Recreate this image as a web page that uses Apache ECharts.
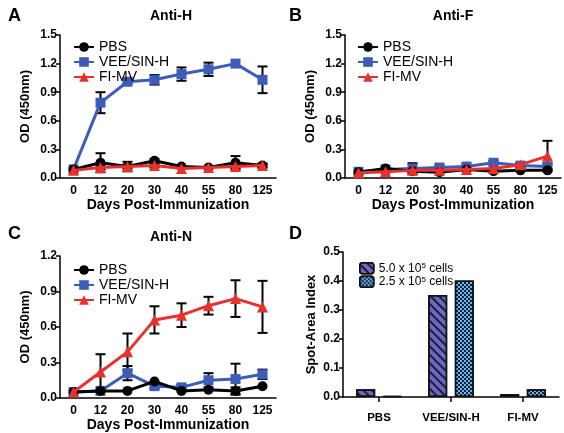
<!DOCTYPE html>
<html><head><meta charset="utf-8">
<script src="https://cdn.jsdelivr.net/npm/echarts@6/dist/echarts.min.js"></script>
<style>html,body{margin:0;padding:0;background:#fff}#c{width:564px;height:433px}</style>
</head><body><div id="c"></div>
<script>
// ---------- data ----------
const days = ['0','12','20','30','40','55','80','125'];
const seriesNames = ['PBS','VEE/SIN-H','FI-MV'];

// Panel A (Anti-H)
const aPBS    = [0.09,0.16,0.12,0.18,0.12,0.11,0.16,0.13];
const aPBSsd  = [0.00,0.10,0.05,0.02,0.01,0.01,0.07,0.02];
const aVEE    = [0.09,0.79,1.01,1.03,1.09,1.14,1.20,1.03];
const aVEEsd  = [0.00,0.11,0.02,0.05,0.07,0.07,0.01,0.14];
const aFI     = [0.08,0.11,0.12,0.13,0.10,0.11,0.12,0.13];
const aFIsd   = [0.01,0.02,0.02,0.02,0.01,0.01,0.02,0.02];
// Panel B (Anti-F)
const bPBS    = [0.06,0.10,0.07,0.06,0.09,0.07,0.08,0.08];
const bPBSsd  = [0.01,0.01,0.01,0.01,0.01,0.01,0.01,0.01];
const bVEE    = [0.065,0.09,0.10,0.11,0.12,0.16,0.13,0.12];
const bVEEsd  = [0.01,0.01,0.055,0.02,0.02,0.02,0.02,0.03];
const bFI     = [0.055,0.065,0.08,0.08,0.09,0.10,0.14,0.23];
const bFIsd   = [0.01,0.01,0.01,0.01,0.01,0.01,0.02,0.16];
// Panel C (Anti-N)
const cPBS    = [0.05,0.06,0.06,0.14,0.06,0.07,0.06,0.10];
const cPBSsd  = [0.00,0.00,0.01,0.01,0.01,0.01,0.03,0.01];
const cVEE    = [0.05,0.06,0.21,0.10,0.09,0.15,0.16,0.20];
const cVEEsd  = [0.00,0.01,0.06,0.02,0.02,0.06,0.13,0.04];
const cFI     = [0.05,0.22,0.39,0.66,0.70,0.78,0.84,0.77];
const cFIsd   = [0.01,0.15,0.155,0.115,0.10,0.075,0.155,0.22];
// Panel D (spot-area index)
const dGroups = ['PBS','VEE/SIN-H','FI-MV'];
const d5cells  = [0.027,0.352,0.010];
const d25cells = [0.004,0.402,0.027];

// ---------- styling ----------
const FONT = 'Liberation Sans, Arial, sans-serif';
const colors = {'PBS':'#000000','VEE/SIN-H':'#3d5cb8','FI-MV':'#e8302c'};
const symbols = {'PBS':'circle','VEE/SIN-H':'rect','FI-MV':'triangle'};
const symSize = {'PBS':10,'VEE/SIN-H':10,'FI-MV':11};
const zOrder = {'PBS':3,'VEE/SIN-H':2,'FI-MV':4};

const grids = [
  {left:60, top:35, width:216, height:143},
  {left:345, top:35, width:216, height:143},
  {left:60, top:256, width:216, height:142},
  {left:343, top:252, width:216, height:145}
];
const yMax = [1.5,1.5,1.2,0.5];
const yInt = [0.3,0.3,0.3,0.1];

const xAxes = [], yAxes = [];
for (let i=0;i<3;i++){
  xAxes.push({type:'category', gridIndex:i, data:days, boundaryGap:true,
    axisLine:{lineStyle:{color:'#000',width:1.5}}, axisTick:{show:false},
    axisLabel:{color:'#000',fontFamily:FONT,fontWeight:'bold',fontSize:12,margin:7,interval:0},
    name:'Days Post-Immunization', nameLocation:'middle', nameGap:19,
    nameTextStyle:{color:'#000',fontFamily:FONT,fontWeight:'bold',fontSize:14}});
}
xAxes.push({type:'category', gridIndex:3, data:dGroups, boundaryGap:true,
  axisLine:{lineStyle:{color:'#000',width:1.5}}, axisTick:{show:true,alignWithLabel:true,length:5,lineStyle:{width:1.5,color:'#000'}},
  axisLabel:{color:'#000',fontFamily:FONT,fontWeight:'bold',fontSize:11.5,margin:15,interval:0}});
for (let i=0;i<4;i++){
  yAxes.push({type:'value', gridIndex:i, min:0, max:yMax[i], interval:yInt[i],
    splitLine:{show:false},
    axisLine:{show:true,lineStyle:{color:'#000',width:1.5}},
    axisTick:{show:true,length:4,lineStyle:{color:'#000',width:1.5}},
    axisLabel:{color:'#000',fontFamily:FONT,fontWeight:'bold',fontSize:12,margin:3,
      formatter:v=>v.toFixed(1)},
    name: i<3 ? 'OD (450nm)' : 'Spot-Area Index', nameLocation:'middle', nameGap: i<3?28:25,
    nameTextStyle:{color:'#000',fontFamily:FONT,fontWeight:'bold',fontSize:13}});
}

function errRender(params, api){
  const x = api.value(0), lo = api.value(1), hi = api.value(2);
  const p1 = api.coord([x,hi]), p2 = api.coord([x,lo]);
  const w = 5, st = {stroke:'#000', lineWidth:2};
  return {type:'group', children:[
    {type:'line', shape:{x1:p1[0],y1:p1[1],x2:p2[0],y2:p2[1]}, style:st},
    {type:'line', shape:{x1:p1[0]-w,y1:p1[1],x2:p1[0]+w,y2:p1[1]}, style:st},
    {type:'line', shape:{x1:p2[0]-w,y1:p2[1],x2:p2[0]+w,y2:p2[1]}, style:st}
  ]};
}

const series = [];
const panels = [
  [[aPBS,aPBSsd],[aVEE,aVEEsd],[aFI,aFIsd]],
  [[bPBS,bPBSsd],[bVEE,bVEEsd],[bFI,bFIsd]],
  [[cPBS,cPBSsd],[cVEE,cVEEsd],[cFI,cFIsd]]
];
panels.forEach((p,gi)=>{
  p.forEach(([vals,sd],si)=>{
    series.push({type:'custom', xAxisIndex:gi, yAxisIndex:gi, z:1, silent:true,
      renderItem:errRender,
      data: vals.map((v,k)=>[k, Math.max(0,v-sd[k]), v+sd[k]]).filter((d,k)=>sd[k]>0.015)});
  });
  p.forEach(([vals,sd],si)=>{
    const name = seriesNames[si];
    series.push({type:'line', name:name, xAxisIndex:gi, yAxisIndex:gi, z:zOrder[name],
      data:vals, symbol:symbols[name], symbolSize:symSize[name], showAllSymbol:true,
      lineStyle:{color:colors[name],width:3}, itemStyle:{color:colors[name]}, animation:false});
  });
});

series.push({type:'bar', name:'s5', xAxisIndex:3, yAxisIndex:3, data:d5cells,
  barWidth:19, barGap:'40%',
  itemStyle:{color:'#6b6bbd', borderColor:'#111', borderWidth:1.5,
    decal:{symbol:'rect', color:'#1b1b40', dashArrayX:[1,0], dashArrayY:[2,4], rotation:Math.PI/4, symbolSize:1}}});
series.push({type:'bar', name:'s25', xAxisIndex:3, yAxisIndex:3, data:d25cells,
  barWidth:19, barGap:'40%',
  itemStyle:{color:'#6fb6e8', borderColor:'#111', borderWidth:1.5,
    decal:{symbol:'rect', color:'#10203f', dashArrayX:[[2,2],[0,2,2,0]], dashArrayY:[2,0], rotation:0, symbolSize:1}}});

const legText = {color:'#000', fontFamily:FONT, fontSize:14};
const lineLegend = (left,top)=>({left, top, orient:'vertical', itemWidth:20, itemHeight:12, itemGap:1,
  data:seriesNames, textStyle:legText, selectedMode:false});

const titleStyle = {color:'#000', fontFamily:FONT, fontWeight:'bold', fontSize:14};
const letterStyle = {color:'#000', fontFamily:FONT, fontWeight:'bold', fontSize:18};

const option = {
  animation:false,
  title:[
    {text:'A', left:3, top:2, textStyle:letterStyle},
    {text:'Anti-H', left:166, top:4, textAlign:'center', textStyle:titleStyle},
    {text:'B', left:284, top:2, textStyle:letterStyle},
    {text:'Anti-F', left:448, top:4, textAlign:'center', textStyle:titleStyle},
    {text:'C', left:3, top:220, textStyle:letterStyle},
    {text:'Anti-N', left:166, top:225, textAlign:'center', textStyle:titleStyle},
    {text:'D', left:284, top:220, textStyle:letterStyle}
  ],
  grid:grids, xAxis:xAxes, yAxis:yAxes, series:series,
  legend:[
    lineLegend(68,35),
    lineLegend(352,35),
    lineLegend(68,258),
    {left:354, top:257, orient:'vertical', itemWidth:14, itemHeight:11, itemGap:1, itemStyle:{borderColor:'#111',borderWidth:1.5}, selectedMode:false,
      data:['s5','s25'], textStyle:Object.assign({},legText,{fontSize:12,rich:{sup:{fontSize:8,verticalAlign:'top',fontFamily:FONT}}}),
      formatter: n => n==='s5' ? '5.0 x 10{sup|5} cells' : '2.5 x 10{sup|5} cells'}
  ]
};
const chart = echarts.init(document.getElementById('c'), null, {renderer:'canvas'});
chart.setOption(option);
</script></body></html>
